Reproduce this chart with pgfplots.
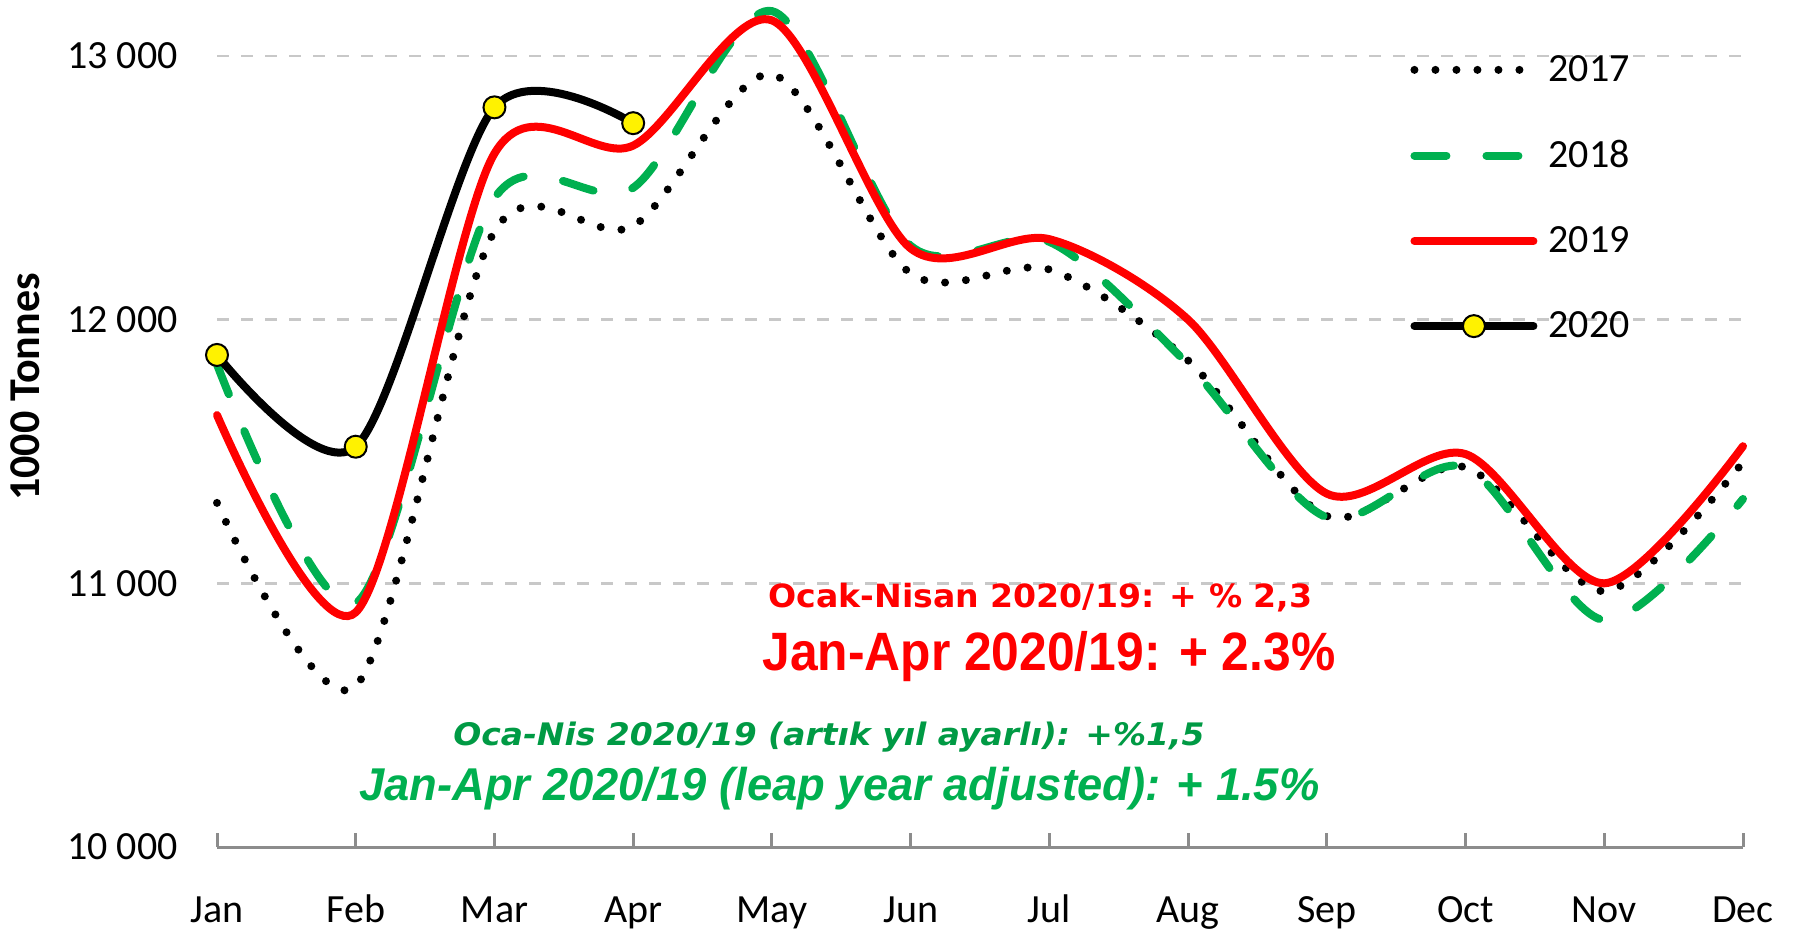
\documentclass[border=0pt]{standalone}
\usepackage{fontspec}
\setmainfont{Carlito}
\newfontfamily\verdana{DejaVu Sans}
\newfontfamily\arialf{Liberation Sans}
\usepackage{graphicx}
\usepackage{pgfplots}
\pgfplotsset{compat=1.18}
\definecolor{redline}{HTML}{FF0000}
\definecolor{greenline}{HTML}{00B050}
\definecolor{greentxt}{HTML}{009A44}
\definecolor{gridc}{HTML}{C8C8C8}
\definecolor{axisc}{HTML}{8C8C8C}

\begin{document}
\begin{tikzpicture}
\path[use as bounding box] (0,0) rectangle (898.5pt,466pt);
\begin{axis}[
 at={(108.5pt,42.5pt)}, anchor=south west,
 scale only axis, width=763pt, height=421.9pt,
 xmin=0, xmax=11, ymin=10000, ymax=13200,
 clip=false,
 axis x line*=bottom, axis y line*=left,
 y axis line style={draw=none},
 x axis line style={draw=axisc, line width=1.5pt, -},
 xtick={0,...,11},
 xticklabels={Jan,Feb,Mar,Apr,May,Jun,Jul,Aug,Sep,Oct,Nov,Dec},
 xtick align=inside,
 major tick length=7pt,
 xtick style={draw=axisc, line width=1.5pt},
 ytick={10000,11000,12000,13000},
 scaled y ticks=false,
 ytick style={draw=none},
 ymajorgrids,
 major grid style={draw=gridc, line width=1.2pt, dash pattern=on 6pt off 6pt},
 tick label style={font=\fontsize{20}{24}\selectfont, inner sep=0pt},
 /pgf/number format/assume math mode=true,
 /pgf/number format/1000 sep={\ },
 yticklabel style={anchor=east, xshift=-19.5pt},
 xticklabel style={anchor=base, yshift=-37.5pt},
 ylabel={\bfseries 1000 Tonnes},
 every axis y label/.style={at={(axis description cs:-0.1258,0.5451)}, rotate=90, anchor=center, font=\fontsize{22}{26}\selectfont},
 legend style={draw=none, fill=none, at={(axis description cs:0.7818,0.9386)}, anchor=north west,
   inner sep=0pt, row sep=28pt, font=\fontsize{20}{24}\selectfont, nodes={inner sep=0pt}},
 legend cell align=left,
 legend image code/.code={\draw[mark repeat=2,mark phase=2,#1] plot coordinates {(2pt,0pt)(31.75pt,0pt)(61.5pt,0pt)};},
 /tikz/every odd column/.append style={column sep=5.5pt},
 every axis plot/.append style={smooth, tension=0.5, line width=4pt, line cap=round},
]
\addplot[black, dash pattern=on 0pt off 10.5pt] coordinates {
(0,11305) (1,10610) (2,12335) (3,12355) (4,12930) (5,12175)
(6,12190) (7,11845) (8,11255) (9,11440) (10,10970) (11,11460)};
\addlegendentry{2017}
\addplot[greenline, dash pattern=on 16pt off 20pt] coordinates {
(0,11830) (1,10925) (2,12460) (3,12500) (4,13170) (5,12280)
(6,12295) (7,11830) (8,11250) (9,11440) (10,10860) (11,11320)};
\addlegendentry{2018}
\addplot[redline] coordinates {
(0,11638) (1,10890) (2,12630) (3,12660) (4,13135) (5,12270)
(6,12305) (7,12000) (8,11340) (9,11490) (10,11000) (11,11520)};
\addlegendentry{2019}
\addplot[black, mark=*, mark size=5.5pt, mark options={fill=yellow, draw=black, line width=1pt, solid}] coordinates {
(0,11866) (1,11518) (2,12805) (3,12745)};
\addlegendentry{2020}
\end{axis}
\node[anchor=base west, inner sep=0pt, text=redline] at (384pt,162pt)
 {\resizebox{272pt}{\height}{\verdana\bfseries\fontsize{16}{18}\selectfont Ocak-Nisan 2020/19: + \% 2,3}};
\node[anchor=base west, inner sep=0pt, text=redline] at (381pt,131pt)
 {\resizebox{286.5pt}{\height}{\arialf\bfseries\fontsize{27}{30}\selectfont Jan-Apr 2020/19: + 2.3\%}};
\node[anchor=base west, inner sep=0pt, text=greentxt] at (226.5pt,93.5pt)
 {\resizebox{375.5pt}{\height}{\verdana\bfseries\itshape\fontsize{15.5}{17}\selectfont Oca-Nis 2020/19 (artık yıl ayarlı): +\%1,5}};
\node[anchor=base west, inner sep=0pt, text=greenline] at (179.5pt,66pt)
 {\resizebox{480pt}{\height}{\arialf\bfseries\itshape\fontsize{23}{26}\selectfont Jan-Apr 2020/19 (leap year adjusted): + 1.5\%}};
\end{tikzpicture}
\end{document}
